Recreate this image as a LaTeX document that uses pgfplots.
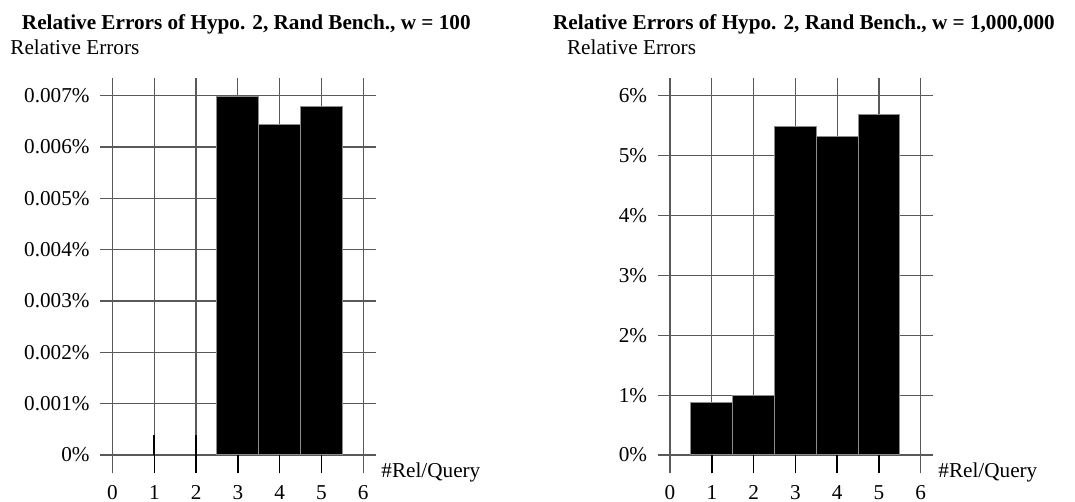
\documentclass[border=0pt]{standalone}
\usepackage{pgfplots}
\pgfplotsset{compat=1.18}
\usepackage{fontspec}
\setmainfont{Liberation Serif}
\begin{document}
\fontsize{10.6}{12.7}\selectfont
\begin{tikzpicture}
\pgfplotsset{
  myax/.style={
    scale only axis, width=137.85pt, height=197.5pt,
    xmin=-0.3, xmax=6.3,
    axis line style={draw=none},
    xtick={0,...,6}, major tick length=0pt,
    xtick pos=bottom, ytick pos=left,
    ytick style={draw=none},
    grid=major, major grid style={black!65, line width=0.6pt},
    extra x ticks={1,2,3,4,5}, extra x tick labels={},
    extra x tick style={grid=none, major tick length=9.15pt, tick align=inside,
      tick style={black, line width=0.8pt}},
    scaled y ticks=false,
    /pgf/number format/assume math mode=true,
    xticklabel style={yshift=-2.2pt},
    yticklabel style={xshift=-1.5pt},
    tick label style={font=\fontsize{10.6}{12.7}\selectfont},
  }
}
\path[use as bounding box] (0,0) rectangle (537.5pt,-251pt);

\begin{axis}[myax, at={(50pt,-236.65pt)}, anchor=south west,
  ymin=-0.000357, ymax=0.007339,
  ytick={0,0.001,0.002,0.003,0.004,0.005,0.006,0.007},
  yticklabel={\pgfmathprintnumber[fixed,precision=3]{\tick}\%},
]
\addplot[ybar, bar width=1, fill=black, draw=black!45, line width=0.5pt]
  coordinates {(3,0.00699) (4,0.00644) (5,0.00679)};
\addplot[ycomb, black, line width=1pt] coordinates {(1,0.00039) (2,0.00039)};
\end{axis}

\begin{axis}[myax, at={(328.75pt,-236.65pt)}, anchor=south west,
  ymin=-0.306, ymax=6.291,
  ytick={0,1,2,3,4,5,6},
  yticklabel={\pgfmathprintnumber{\tick}\%},
]
\addplot[ybar, bar width=1, fill=black, draw=black!45, line width=0.5pt]
  coordinates {(1,0.88) (2,0.99) (3,5.48) (4,5.32) (5,5.68)};
\end{axis}

\node[anchor=base, font=\bfseries] at (123.15pt,-15pt) {Relative Errors of Hypo. 2, Rand Bench., w = 100};
\node[anchor=base, font=\bfseries] at (402pt,-15pt) {Relative Errors of Hypo. 2, Rand Bench., w = 1,000,000};
\node[anchor=base west, inner sep=0pt] at (5pt,-27.15pt) {Relative Errors};
\node[anchor=base west, inner sep=0pt] at (283.35pt,-27.15pt) {Relative Errors};
\node[anchor=base west, inner sep=0pt] at (190.5pt,-238.65pt) {\#Rel/Query};
\node[anchor=base west, inner sep=0pt] at (469pt,-238.65pt) {\#Rel/Query};
\end{tikzpicture}
\end{document}
